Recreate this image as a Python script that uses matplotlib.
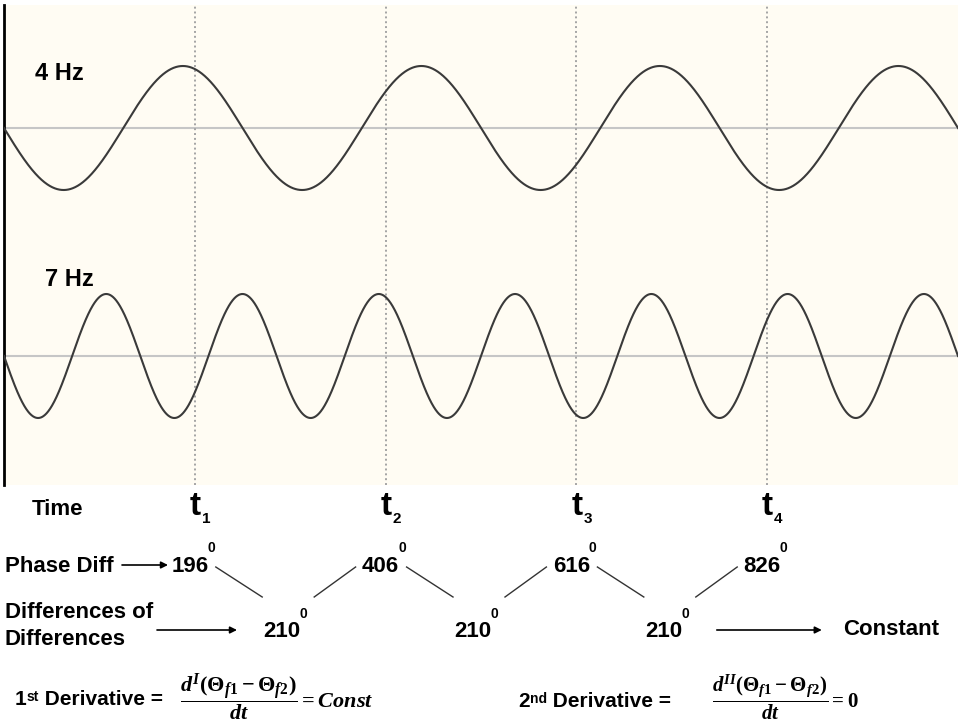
import numpy as np
import matplotlib.pyplot as plt

plt.rcParams['mathtext.fontset'] = 'custom'
plt.rcParams['mathtext.rm'] = 'Liberation Serif:bold'
plt.rcParams['mathtext.it'] = 'Liberation Serif:bold:italic'
plt.rcParams['mathtext.bf'] = 'Liberation Serif:bold'

#%% data
freqs = [4, 7]
freq_labels = ['4 Hz', '7 Hz']
t_marks = [0.2, 0.4, 0.6, 0.8]          # s, dotted verticals
t_subs = ['1', '2', '3', '4']
phase_diff = [196, 406, 616, 826]        # degrees
diff_of_diff = [210, 210, 210]

#%% layout (pixels)
W, H = 958, 725
PX0, PY0, PW, PH = 4, 5, 954, 480
base = [357, 129]      # zero line of each wave, panel px from bottom
amp = 62
lab_pos = [(35, 412), (45, 205)]

fig = plt.figure(figsize=(W / 100, H / 100), dpi=100)
fig.patch.set_facecolor('white')

ax = fig.add_axes([PX0 / W, 1 - (PY0 + PH) / H, PW / W, PH / H])
ax.set_facecolor('#fffcf3')
t = np.linspace(0, 1, 3000)
for f, b, lab, (lx, ly) in zip(freqs, base, freq_labels, lab_pos):
    ax.axhline(b, color='#c6c6c6', lw=1.5, zorder=1)
    ax.plot(t, b - amp * np.sin(2 * np.pi * f * t), color='#3a3a3a', lw=1.5, zorder=3)
    ax.text((lx - PX0) / PW, ly, lab, fontsize=17, fontweight='bold',
            family='Liberation Sans', va='center', ha='left')
for tm in t_marks:
    ax.axvline(tm, color='#a4a4a4', lw=1.4, ls=(0, (1, 1.5)), zorder=2)
ax.set_xlim(0, 1)
ax.set_ylim(0, PH)
ax.set_xticks([])
ax.set_yticks([])
for s in ['top', 'right', 'bottom']:
    ax.spines[s].set_visible(False)
ax.spines['left'].set_linewidth(2)
ax.spines['left'].set_color('black')

#%% lower annotation area, figure pixels
lo = fig.add_axes([0, 0, 1, 1])
lo.set_xlim(0, W)
lo.set_ylim(H, 0)
lo.axis('off')
lo.patch.set_visible(False)

kw = dict(family='Liberation Sans', fontweight='bold', color='black')
arrow = dict(arrowstyle='-|>', color='black', lw=1.2, mutation_scale=10,
             shrinkA=0, shrinkB=0)

def tx(tm):
    return PX0 + tm * PW

def sup(txt, label, dy=3):
    return lo.annotate(label, xy=(1, 1), xycoords=txt, xytext=(-1, dy),
                       textcoords='offset pixels', fontsize=10, ha='left',
                       va='baseline', **kw)

# time row
lo.text(32, 515, 'Time', fontsize=16, va='baseline', **kw)
for tm, s in zip(t_marks, t_subs):
    tt = lo.text(tx(tm) + 6, 515, 't', fontsize=24, ha='right', va='baseline', **kw)
    lo.annotate(s, xy=(1, 0), xycoords=tt, xytext=(1, -1), textcoords='offset pixels',
                fontsize=11, ha='left', va='baseline', **kw)

# phase difference row
lo.text(5, 572, 'Phase Diff', fontsize=16, va='baseline', **kw)
lo.annotate('', xy=(168, 565), xytext=(122, 565), arrowprops=arrow)
px = [tx(tm) - 5 for tm in t_marks]
for x, v in zip(px, phase_diff):
    n = lo.text(x, 572, str(v), fontsize=16, ha='center', va='baseline', **kw)
    sup(n, '0', 4)

# differences row
lo.text(5, 618, 'Differences of', fontsize=16, va='baseline', **kw)
lo.text(5, 645, 'Differences', fontsize=16, va='baseline', **kw)
lo.annotate('', xy=(237, 630), xytext=(157, 630), arrowprops=arrow)
dx = [(tx(a) + tx(b)) / 2 - 8 for a, b in zip(t_marks[:-1], t_marks[1:])]
for i, (x, v) in enumerate(zip(dx, diff_of_diff)):
    n = lo.text(x, 637, str(v), fontsize=16, ha='center', va='baseline', **kw)
    sup(n, '0', 3)
    lo.plot([px[i] + 26, x - 20], [567, 597], color='#333333', lw=1)
    lo.plot([x + 32, px[i + 1] - 25], [597, 567], color='#333333', lw=1)
lo.annotate('', xy=(dx[-1] + 158, 630), xytext=(dx[-1] + 53, 630), arrowprops=arrow)
lo.text(843, 635, 'Constant', fontsize=16, va='baseline', **kw)

# derivative formulas
def deriv(x, y, num, ordinal, fx, frac, fs):
    one = lo.text(x, y, num, fontsize=15, va='bottom', **kw)
    st = lo.annotate(ordinal, xy=(1, 1), xycoords=one, xytext=(0, 0),
                     textcoords='offset pixels', fontsize=10, ha='left', va='top', **kw)
    lo.annotate(' Derivative =', xy=(1, 0), xycoords=(st, one), xytext=(0, 0),
                textcoords='offset pixels', fontsize=15, ha='left', va='bottom', **kw)
    lo.text(fx, 697, frac, fontsize=fs, ha='left', va='center')

deriv(15, 709, '1', 'st', 180,
      r'$\dfrac{d^{I}(\Theta_{f1}-\Theta_{f2})}{dt}=Const$', 16)
deriv(518, 711, '2', 'nd', 712,
      r'$\dfrac{d^{II}(\Theta_{f1}-\Theta_{f2})}{dt}=0$', 15)

fig.savefig('out.png', dpi=100, facecolor='white')
